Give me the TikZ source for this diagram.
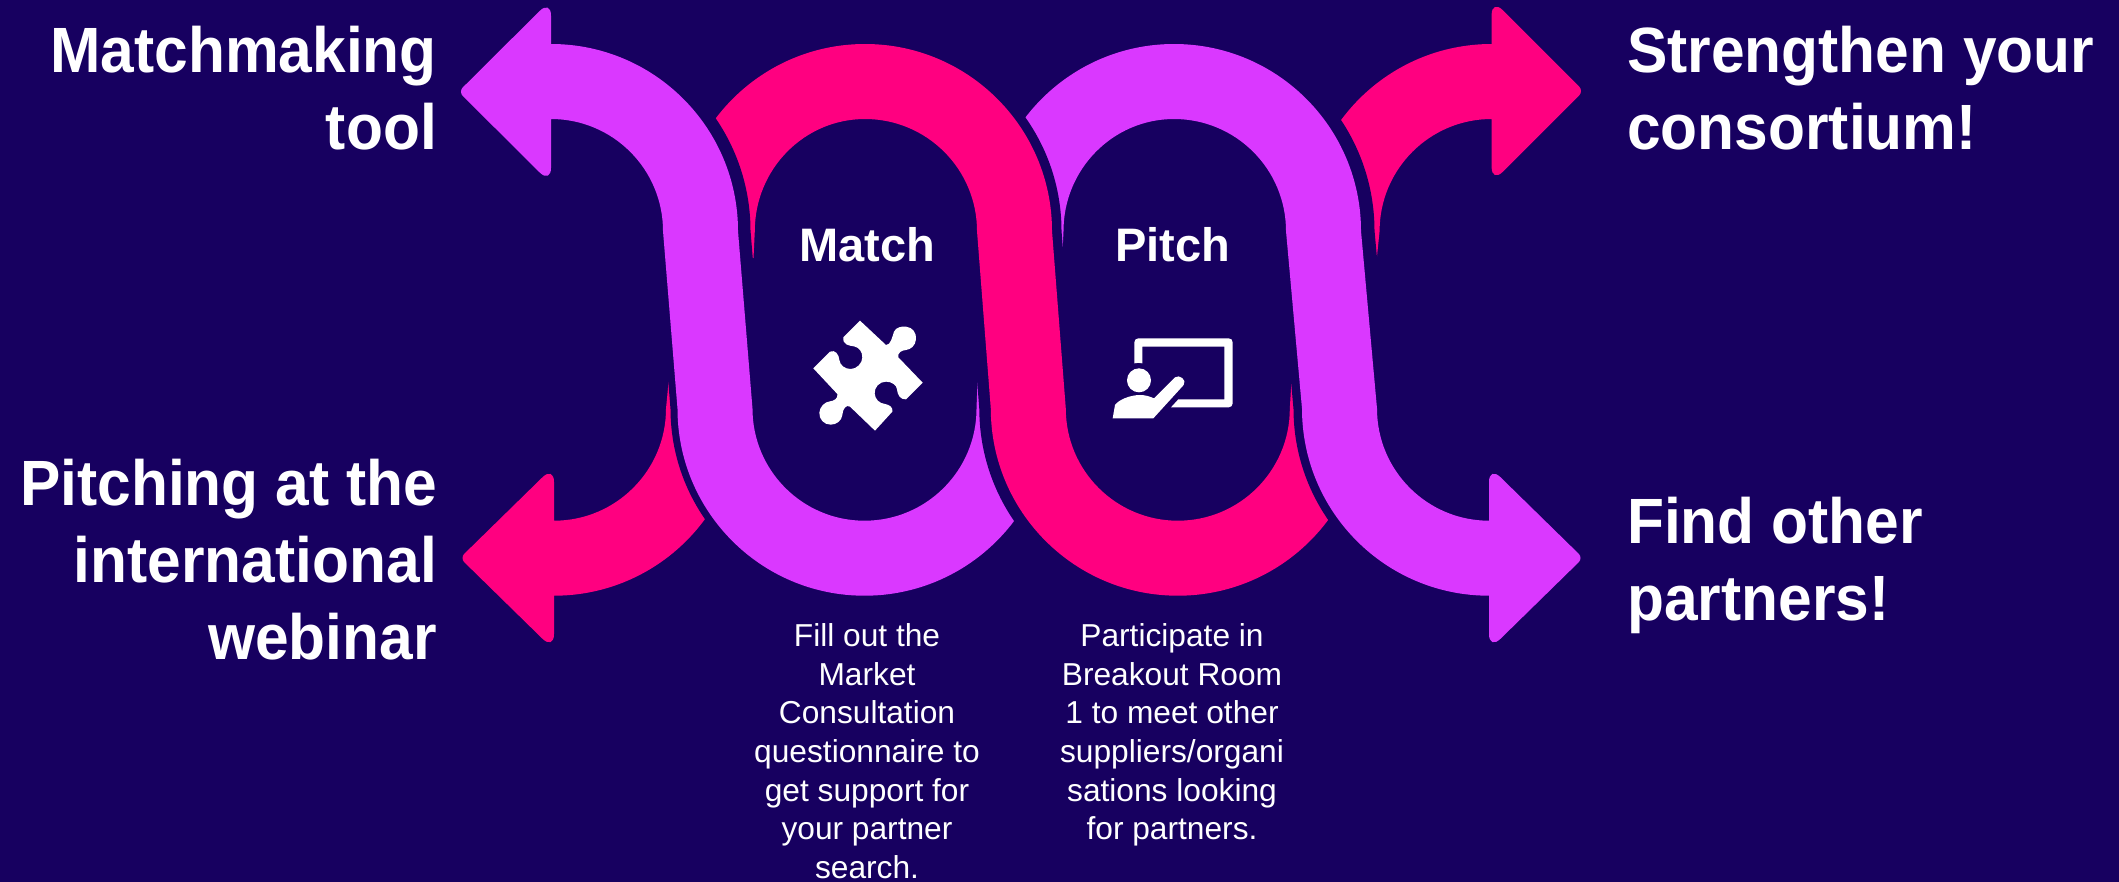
\documentclass[tikz,border=0pt]{standalone}
\usepackage{fontspec}
\setmainfont{Liberation Sans}
\newfontfamily\headface[FakeStretch=0.945]{Liberation Sans}
\definecolor{bg}{HTML}{170060}
\definecolor{vio}{HTML}{DA38FF}
\definecolor{mag}{HTML}{FF0080}
\newcommand\headfont{\headface\fontsize{64}{77}\selectfont\bfseries}
\newcommand\subfont{\fontsize{47}{54}\selectfont\bfseries}
\newcommand\bodyfont{\fontsize{31.7}{38.6}\selectfont}
\tikzset{
  head/.style={inner sep=0pt,font=\headfont,text=white},
  sub/.style={inner sep=0pt,font=\subfont,text=white,anchor=base},
  body/.style={inner sep=0pt,font=\bodyfont,text=white,align=center,anchor=north},
  halo/.style={draw=bg,fill=bg,line width=#1,line join=round},
  icon/.style={fill=white,even odd rule}
}
% band outlines
\newcommand\shapeTR{(1491.6,-44) arc[start angle=90,end angle=180,radius=187pt] -- (1376.8,-258) -- (1379.6,-231) arc[start angle=180,end angle=90,radius=112pt] -- (1491.6,-119) [rounded corners=16pt] -- (1491.6,-183) [rounded corners=6pt] -- (1583.5,-91) [rounded corners=16pt] -- (1491.6,1) [sharp corners] -- (1491.6,-44) -- cycle}
\newcommand\shapeVtwoT{(1361,-231) arc[start angle=0,end angle=180,radius=187pt] -- (1062.2,-258) -- (1063.5,-231) arc[start angle=180,end angle=90,x radius=110.5pt,y radius=112pt] arc[start angle=90,end angle=0,radius=112pt] -- (1302,-408.7) -- (1377,-408.7) -- cycle}
\newcommand\shapeMT{(1052,-231) arc[start angle=0,end angle=180,radius=187pt] -- (753.5,-258) -- (754.8,-231) arc[start angle=180,end angle=90,x radius=110.2pt,y radius=112pt] arc[start angle=90,end angle=0,radius=112pt] -- (990.8,-408.7) -- (1065.8,-408.7) -- cycle}
\newcommand\shapeVoneT{(551,-44) arc[start angle=90,end angle=0,radius=187pt] -- (752.5,-408.7) -- (677.5,-408.7) -- (663,-231) arc[start angle=0,end angle=90,radius=112pt] [rounded corners=16pt] -- (551,-183.7) [rounded corners=6pt] -- (458.5,-91.7) [rounded corners=16pt] -- (551,0.3) [sharp corners] -- (551,-44) -- cycle}
\newcommand\shapeBL{(554,-520.7) arc[start angle=270,end angle=360,radius=112pt] -- (668.6,-381.7) -- (741,-408.7) arc[start angle=0,end angle=-90,radius=187pt] [rounded corners=16pt] -- (554,-650) [rounded corners=6pt] -- (460,-558) [rounded corners=16pt] -- (554,-466) [sharp corners] -- (554,-520.7) -- cycle}
\newcommand\shapeVoneB{(738,-231) -- (752.5,-408.7) arc[start angle=180,end angle=360,radius=112pt] -- (977.5,-381.7) -- (1051.5,-408.7) arc[start angle=0,end angle=-180,radius=187pt] -- (663,-231) -- cycle}
\newcommand\shapeMB{(1052,-231) -- (1065.8,-408.7) arc[start angle=180,end angle=360,radius=112pt] -- (1291.4,-381.7) -- (1364.8,-408.7) arc[start angle=0,end angle=-180,radius=187pt] -- (977,-231) -- cycle}
\newcommand\shapeVtwoB{(1286,-231) -- (1302,-408.7) arc[start angle=180,end angle=270,radius=187pt] [rounded corners=16pt] -- (1489,-650) [rounded corners=6pt] -- (1583,-558) [rounded corners=16pt] -- (1489,-466) [sharp corners] -- (1489,-520.7) arc[start angle=270,end angle=180,radius=112pt] -- (1361,-231) -- cycle}
\begin{document}
\begin{tikzpicture}[x=1pt,y=1pt]
\useasboundingbox (0,0) rectangle (2119,-881);
\fill[bg] (-5,5) rectangle (2125,-887);
% upper half: right to left
\begin{scope}
\clip (0,0) rectangle (2119,-320.5);
\fill[mag] \shapeTR;
\path[halo=27pt] \shapeVtwoT; \fill[vio] \shapeVtwoT;
\path[halo=19pt] \shapeMT; \fill[mag] \shapeMT;
\path[halo=25pt] \shapeVoneT; \fill[vio] \shapeVoneT;
\end{scope}
% lower half: left to right
\begin{scope}
\clip (0,-319.5) rectangle (2119,-881);
\fill[mag] \shapeBL;
\path[halo=14pt] \shapeVoneB; \fill[vio] \shapeVoneB;
\path[halo=23pt] \shapeMB; \fill[mag] \shapeMB;
\path[halo=17pt] \shapeVtwoB; \fill[vio] \shapeVtwoB;
\end{scope}
% puzzle icon
\begin{scope}[shift={(780,-300)},x=0.3333pt,y=-0.3333pt]
\fill[icon] (240,62) -- (318,135) .. controls (332,136) and (337,110) .. (342,95)
 .. controls (348,82) and (365,78) .. (378,80)
 .. controls (398,82) and (410,98) .. (408,118)
 .. controls (406,138) and (392,148) .. (378,150)
 .. controls (365,151) and (352,158) .. (355,172)
 -- (428,248) -- (378,298)
 .. controls (362,300) and (352,285) .. (351,268)
 .. controls (350,255) and (335,245) .. (318,245)
 .. controls (298,245) and (283,262) .. (284,280)
 .. controls (285,298) and (298,310) .. (315,312)
 .. controls (328,314) and (340,322) .. (337,335)
 -- (285,392) -- (210,320)
 .. controls (198,312) and (188,328) .. (187,345)
 .. controls (185,362) and (170,374) .. (152,374)
 .. controls (132,374) and (117,358) .. (118,338)
 .. controls (119,320) and (135,305) .. (150,304)
 .. controls (162,303) and (175,295) .. (172,282)
 -- (100,205) -- (150,155)
 .. controls (165,148) and (177,163) .. (178,180)
 .. controls (180,196) and (195,207) .. (212,207)
 .. controls (230,207) and (247,190) .. (247,172)
 .. controls (247,155) and (237,142) .. (222,139)
 .. controls (208,137) and (187,135) .. (190,112) -- cycle;
\end{scope}
% presenter icon
\begin{scope}[shift={(1090,-320)},x=0.3333pt,y=-0.3333pt]
\fill[icon] (133,130) -- (133,67) .. controls (133,60) and (138,55) .. (145,55)
 -- (416,55) .. controls (423,55) and (428,60) .. (428,67)
 -- (428,250) .. controls (428,257) and (423,262) .. (416,262)
 -- (243,262) -- (265,238) -- (403,238) -- (403,80) -- (157,80) -- (157,130)
 .. controls (150,128) and (140,128) .. (133,130) -- cycle;
\fill[icon] (147,181) circle[radius=12pt];
\fill[icon] (68,295) -- (75,255) .. controls (85,240) and (120,225) .. (150,225)
 .. controls (168,225) and (180,230) .. (192,235) -- (255,172)
 .. controls (268,162) and (292,180) .. (281,195) -- (190,295) -- cycle;
\end{scope}
% labels
\node[head,anchor=base east] (a) at (437,-72) {Matchmaking};
\node[head,anchor=base east] (a2) at (437,-149) {tool};
\node[head,anchor=base east] (b) at (437,-505) {Pitching at the};
\node[head,anchor=base east] (b2) at (437,-582) {international};
\node[head,anchor=base east] (b3) at (437,-659) {webinar};
\node[head,anchor=base west] (c) at (1627,-72) {Strengthen your};
\node[head,anchor=base west] (c2) at (1627,-149) {consortium!};
\node[head,anchor=base west] (d) at (1627,-543) {Find other};
\node[head,anchor=base west] (d2) at (1627,-620) {partners!};
\node[sub] (m) at (867.5,-261) {Match};
\node[sub] (p) at (1172.5,-261) {Pitch};
\node[body] (mt) at (867,-623.5) {Fill out the\\Market\\Consultation\\questionnaire to\\get support for\\your partner\\search.};
\node[body] (pt) at (1172,-623.5) {Participate in\\Breakout Room\\1 to meet other\\suppliers/organi\\sations looking\\for partners.};
\end{tikzpicture}
\end{document}
